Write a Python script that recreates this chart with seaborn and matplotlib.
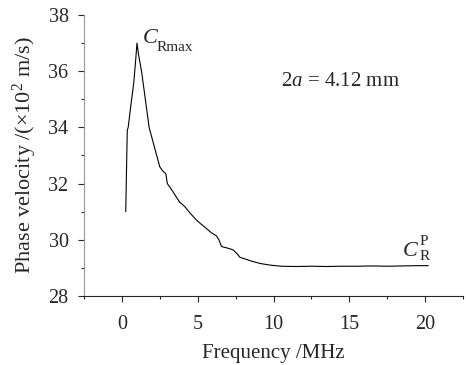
import pandas as pd
import matplotlib.pyplot as plt
import seaborn as sns

# values
freq = [0.26, 0.3, 0.36, 0.42, 0.6, 0.79, 0.9, 1.0, 1.1, 1.3, 1.55, 1.8, 2.1, 2.5, 2.7, 2.9,
        3.0, 3.2, 3.5, 3.8, 4.15, 4.5, 4.92, 5.2, 5.58, 5.9, 6.24, 6.4, 6.57, 7.0, 7.34,
        7.6, 7.78, 8.5, 9.1, 9.76, 10.5, 11.5, 12.5, 13.5, 14.5, 15.5, 16.5, 17.5, 18.5,
        19.5, 20.2]
velocity = [31.0, 32.2, 33.9, 34.0, 34.8, 35.6, 36.3, 37.0, 36.6, 36.0, 35.0, 34.0, 33.4,
            32.6, 32.45, 32.35, 32.0, 31.85, 31.6, 31.35, 31.18, 30.95, 30.7, 30.57, 30.4,
            30.25, 30.14, 30.0, 29.76, 29.7, 29.64, 29.5, 29.38, 29.25, 29.16, 29.1, 29.06,
            29.05, 29.06, 29.05, 29.06, 29.06, 29.07, 29.06, 29.07, 29.08, 29.08]

df = pd.DataFrame({"freq": freq, "velocity": velocity})

sns.set_style("ticks")
plt.rcParams['font.family'] = ['Liberation Serif', 'DejaVu Serif']
plt.rcParams['mathtext.fontset'] = 'custom'
plt.rcParams['mathtext.rm'] = 'Liberation Serif'
plt.rcParams['mathtext.it'] = 'Liberation Serif:italic'

fig = plt.figure(figsize=(4.66, 3.65), dpi=100)
ax = fig.add_axes([0.180, 0.189, 0.814, 0.770])

sns.lineplot(data=df, x="freq", y="velocity", color="black", linewidth=0.8, ax=ax)

ax.set_xlim(-2.5, 22.5)
ax.set_ylim(28, 38)
ax.set_xticks([0, 5, 10, 15, 20])
ax.set_xticks([-2.5, 2.5, 7.5, 12.5, 17.5, 22.5], minor=True)
ax.set_yticks([28, 30, 32, 34, 36, 38])
ax.set_yticks([29, 31, 33, 35, 37], minor=True)
ax.tick_params(which="major", length=4, width=0.8, labelsize=14.5, direction="out")
ax.tick_params(axis="x", which="major", pad=10)
ax.tick_params(axis="y", which="major", pad=7)
ax.tick_params(which="minor", length=2.5, width=0.8, direction="out")
sns.despine(ax=ax)
ax.spines["left"].set_color("#999999")

ax.set_xlabel("Frequency /MHz", fontsize=15, labelpad=7)
ax.set_ylabel(r"Phase velocity /($\times$10$^2$ m/s)", fontsize=16, labelpad=7)

ax.text(1.3, 37.15, r"$C$", fontsize=16, ha="left", va="center")
ax.text(2.3, 36.85, "Rmax", fontsize=11, ha="left", va="center")
ax.text(19.0, 29.6, r"$C$", fontsize=16, ha="center", va="center")
ax.text(19.6, 29.4, "R", fontsize=11, ha="left", va="center")
ax.text(19.6, 29.95, "P", fontsize=11, ha="left", va="center")
ax.text(10.5, 35.65, r"2$a$ = 4.12 mm", fontsize=15, ha="left", va="center")

plt.savefig("out.png", dpi=100)
